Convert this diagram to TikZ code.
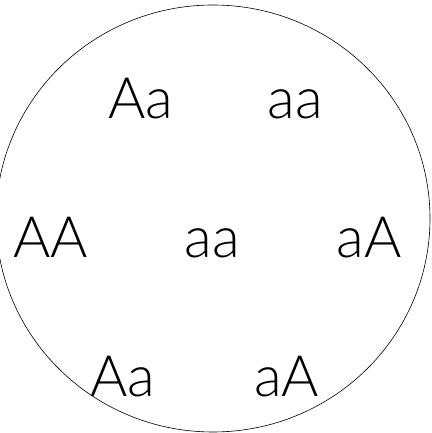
\documentclass[tikz,border=0pt]{standalone}
\usepackage{fontspec}
\usetikzlibrary{shapes.geometric}
\setmainfont{Lato}[UprightFont=* Light]
\begin{document}
\begin{tikzpicture}[x=1pt,y=1pt,
  lbl/.style={anchor=base,inner sep=0pt,font=\fontsize{57}{57}\selectfont}]
\useasboundingbox (0,0) rectangle (431,433);
\clip (0,0) rectangle (431,433);
\node[draw,ellipse,line width=0.6pt,minimum width=434pt,minimum height=427pt,inner sep=0pt] (c) at (213,214.5) {};
\node[lbl] (t1) at (141,314) {Aa};
\node[lbl] (t2) at (295,314) {aa};
\node[lbl] (m1) at (50.5,175) {AA};
\node[lbl] (m2) at (212,175) {aa};
\node[lbl] (m3) at (369,175) {aA};
\node[lbl] (b1) at (123,36) {Aa};
\node[lbl] (b2) at (286.5,36) {aA};
\end{tikzpicture}
\end{document}
